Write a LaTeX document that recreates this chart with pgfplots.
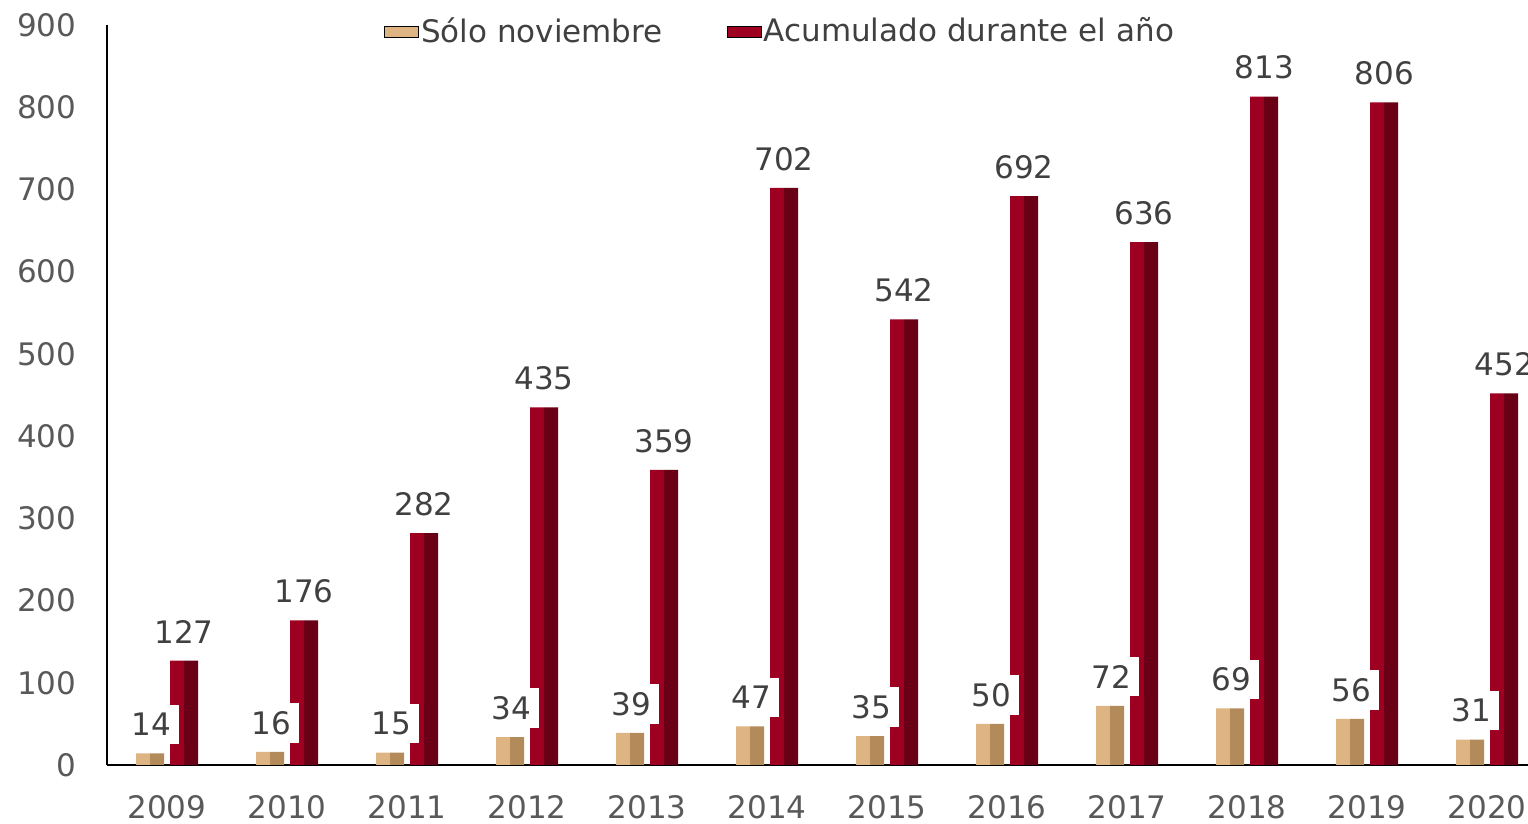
\documentclass[border=0pt]{standalone}
\usepackage{fontspec}
\setmainfont{DejaVu Sans}
\usepackage{pgfplots}
\pgfplotsset{compat=1.18}
\definecolor{tanL}{HTML}{DDB482}
\definecolor{tanR}{HTML}{B38B5B}
\definecolor{redL}{HTML}{9E0022}
\definecolor{redR}{HTML}{6A0016}
\definecolor{tickgray}{HTML}{595959}
\definecolor{labgray}{HTML}{404040}
\begin{document}
\fontsize{15.5}{18}\selectfont
\begin{tikzpicture}
\begin{axis}[
  scale only axis, width=710.5pt, height=370pt,
  xmin=-0.5, xmax=11.34, ymin=0, ymax=900,
  axis x line*=bottom, axis y line*=left,
  axis line style={black, line width=1pt, -},
  xtick={0,1,2,3,4,5,6,7,8,9,10,11},
  xticklabels={2009,2010,2011,2012,2013,2014,2015,2016,2017,2018,2019,2020},
  ytick={0,100,200,300,400,500,600,700,800,900},
  major tick length=0pt,
  tick label style={font=\fontsize{15.5}{18}\selectfont, text=tickgray},
  yticklabel style={xshift=-10pt},
  xticklabel style={yshift=-10pt},
  /pgf/number format/assume math mode=true,
  legend style={at={(rel axis cs:0.4736,0.9905)}, anchor=center, draw=none, fill=none,
    font=\fontsize{15.5}{18}\selectfont, text=labgray,
    nodes={inner xsep=1pt},
    /tikz/every even column/.append style={column sep=31pt}},
  legend columns=2,
  legend image code/.code={\path (0pt,0pt); \fill[#1] (4pt,-4.5pt) rectangle (13pt,4.5pt);},
  every node near coord/.append style={anchor=center, yshift=14.5pt, text=labgray,
    font=\fontsize{15.5}{18}\selectfont},
]
% Sólo noviembre (left half)
\addplot[ybar, bar width=7pt, bar shift=-12pt, fill=tanL, draw=none, area legend]
  coordinates {(0,14) (1,16) (2,15) (3,34) (4,39) (5,47) (6,35) (7,50) (8,72) (9,69) (10,56) (11,31)};
\addlegendentry{Sólo noviembre}
% Acumulado (left half)
\addplot[ybar, bar width=7pt, bar shift=5pt, fill=redL, draw=none, area legend]
  coordinates {(0,127) (1,176) (2,282) (3,435) (4,359) (5,702) (6,542) (7,692) (8,636) (9,813) (10,806) (11,452)};
\addlegendentry{Acumulado durante el año}
% right halves
\addplot[ybar, bar width=7pt, bar shift=-5pt, fill=tanR, draw=none, forget plot]
  coordinates {(0,14) (1,16) (2,15) (3,34) (4,39) (5,47) (6,35) (7,50) (8,72) (9,69) (10,56) (11,31)};
\addplot[ybar, bar width=7pt, bar shift=12pt, fill=redR, draw=none, forget plot]
  coordinates {(0,127) (1,176) (2,282) (3,435) (4,359) (5,702) (6,542) (7,692) (8,636) (9,813) (10,806) (11,452)};
% labels
\addplot[ybar, bar width=0.1pt, bar shift=0pt, draw=none, fill=none, forget plot,
  nodes near coords, every node near coord/.append style={xshift=8.5pt}]
  coordinates {(0,127) (1,176) (2,282) (3,435) (4,359) (5,702) (6,542) (7,692) (8,636) (9,813) (10,806) (11,452)};
\addplot[ybar, bar width=0.1pt, bar shift=0pt, draw=none, fill=none, forget plot,
  nodes near coords, every node near coord/.append style={fill=white, inner sep=4pt, xshift=-8pt}]
  coordinates {(0,14) (1,16) (2,15) (3,34) (4,39) (5,47) (6,35) (7,50) (8,72) (9,69) (10,56) (11,31)};
\coordinate (bbSW) at (rel axis cs:-0.0753,-0.0797);
\coordinate (bbNE) at (rel axis cs:1,1.0338);
\end{axis}
\pgfresetboundingbox
\useasboundingbox (bbSW) rectangle (bbNE);
\end{tikzpicture}
\end{document}
